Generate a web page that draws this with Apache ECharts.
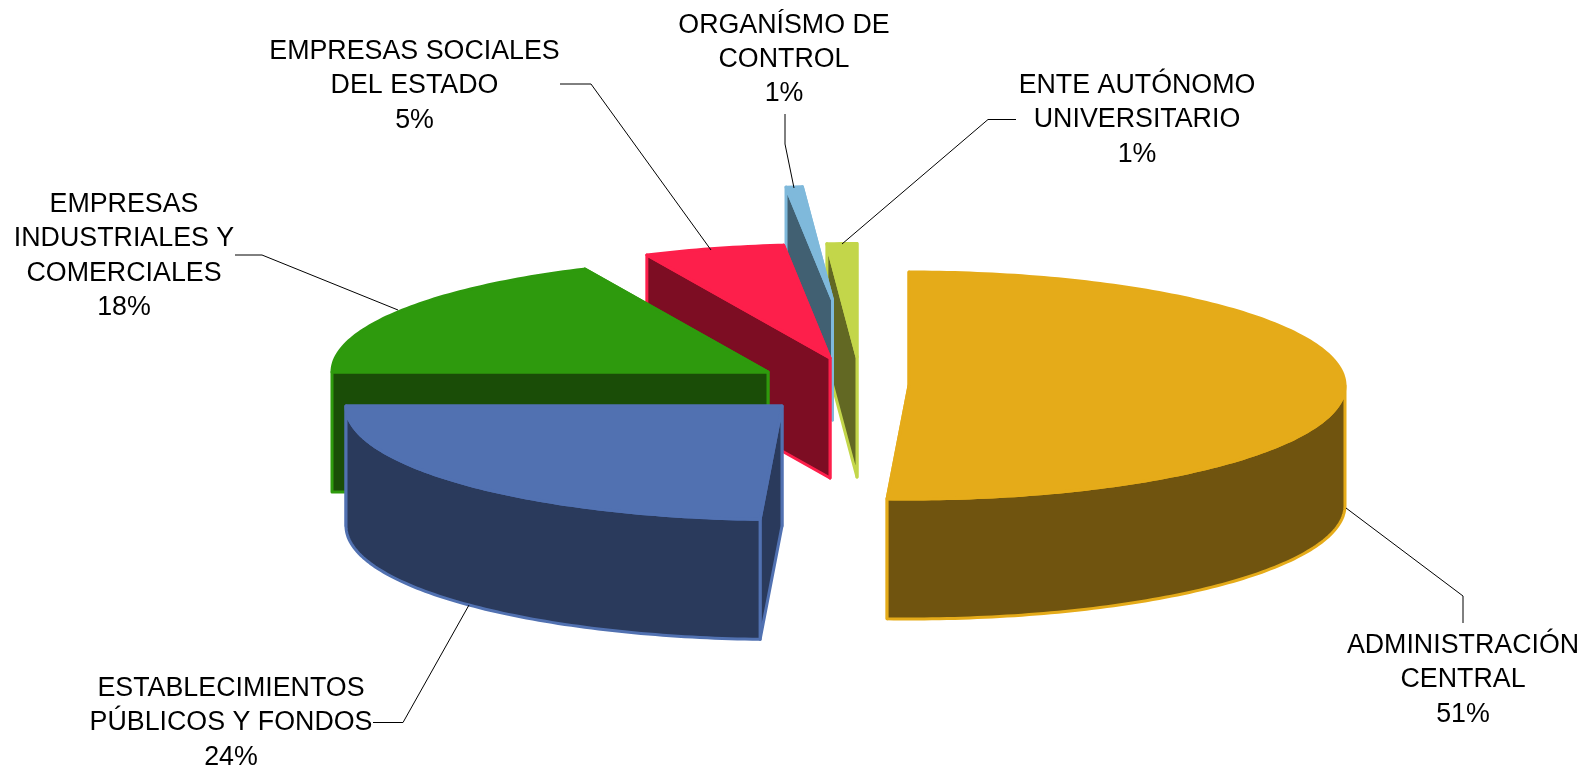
<!DOCTYPE html>
<html>
<head>
<meta charset="utf-8">
<style>
  html, body { margin: 0; padding: 0; background: #fff; }
  #chart { width: 1589px; height: 771px; }
</style>
<script src="https://cdn.jsdelivr.net/npm/echarts@6/dist/echarts.min.js"></script>
</head>
<body>
<div id="chart"></div>
<script>
// datos
const categories = [
  'ADMINISTRACIÓN\nCENTRAL',
  'ESTABLECIMIENTOS\nPÚBLICOS Y FONDOS',
  'EMPRESAS\nINDUSTRIALES Y\nCOMERCIALES',
  'EMPRESAS SOCIALES\nDEL ESTADO',
  'ORGANÍSMO DE\nCONTROL',
  'ENTE AUTÓNOMO\nUNIVERSITARIO'
];
const values = [50.8, 24.2, 18.1, 5.2, 0.6, 1.1];

// colores
const topColors = ['#e5ab19', '#5171b1', '#2e9a0d', '#fd1f4b', '#7fb9db', '#c3d64a'];
const wallColors = ['#70540f', '#2a3a5c', '#1a4d07', '#7d0d23', '#416072', '#626823'];

// geometria de la torta 3D
const rx = 436;
const ry = 113.5;
const depth = 120;
const pieCenter = [830, 385];
const explodeX = [79, -48, -62, 0, 2.5, 27];
const explodeY = [0.5, 21, -13, -27, -85, -28];
// de atras hacia adelante
const drawOrder = [5, 4, 3, 2, 1, 0];

// etiquetas y lineas guia
const labelPos = [[1463, 680], [231, 723], [124, 256], [414.5, 86], [784, 59.5], [1137, 120]];
const leaders = [
  [[1346, 508], [1463, 596], [1463, 623]],
  [[469, 605], [403, 722.5], [373, 722.5]],
  [[398, 310], [262, 255], [235, 255]],
  [[711, 250], [591, 84], [560, 84]],
  [[794, 188], [785, 144], [785, 114]],
  [[842, 244], [988, 119.5], [1016, 119.5]]
];

const total = values.reduce((sum, v) => sum + v, 0);
let acc = 0;
const startAngles = [];
const endAngles = [];
values.forEach(v => {
  startAngles.push(acc / total * 360);
  acc += v;
  endAngles.push(acc / total * 360);
});

function rim(cx, cy, deg) {
  const a = deg * Math.PI / 180;
  return [cx + rx * Math.sin(a), cy - ry * Math.cos(a)];
}

function arc(cx, cy, from, to) {
  const pts = [];
  for (let d = from; d < to; d += 1) pts.push(rim(cx, cy, d));
  pts.push(rim(cx, cy, to));
  return pts;
}

function down(p) {
  return [p[0], p[1] + depth];
}

function face(points, fill, stroke) {
  return {
    type: 'polygon',
    shape: { points: points },
    style: { fill: fill, stroke: stroke, lineWidth: 3, lineJoin: 'round' }
  };
}

function renderSlice(params, api) {
  const i = api.value(0);
  const cx = pieCenter[0] + explodeX[i];
  const cy = pieCenter[1] + explodeY[i];
  const start = startAngles[i];
  const end = endAngles[i];
  const apex = [cx, cy];
  const children = [];
  const radialWall = deg => {
    const p = rim(cx, cy, deg);
    return face([apex, p, down(p), down(apex)], wallColors[i], topColors[i]);
  };
  children.push(radialWall(end));
  children.push(radialWall(start));
  // pared curva, solo la parte de frente
  const from = Math.max(start, 90);
  const to = Math.min(end, 270);
  if (to > from) {
    const upper = arc(cx, cy, from, to);
    const lower = upper.map(down).reverse();
    children.push(face(upper.concat(lower), wallColors[i], topColors[i]));
  }
  children.push(face([apex].concat(arc(cx, cy, start, end)), topColors[i], topColors[i]));
  return { type: 'group', children: children };
}

function renderLabel(params, api) {
  const i = api.value(0);
  return {
    type: 'group',
    children: [
      {
        type: 'polyline',
        shape: { points: leaders[i] },
        style: { fill: null, stroke: '#000', lineWidth: 1 }
      },
      {
        type: 'text',
        x: labelPos[i][0],
        y: labelPos[i][1],
        style: {
          text: categories[i] + '\n' + Math.round(values[i]) + '%',
          fill: '#000',
          font: '26.8px "Liberation Sans", Arial, sans-serif',
          lineHeight: 34.3,
          align: 'center',
          verticalAlign: 'middle'
        }
      }
    ]
  };
}

const myChart = echarts.init(document.getElementById('chart'));
myChart.setOption({
  animation: false,
  backgroundColor: '#fff',
  tooltip: { show: false },
  series: [
    {
      type: 'custom',
      coordinateSystem: 'none',
      renderItem: renderSlice,
      silent: true,
      encode: { value: 0 },
      data: drawOrder.map(i => [i, values[i]])
    },
    {
      type: 'custom',
      coordinateSystem: 'none',
      renderItem: renderLabel,
      silent: true,
      z: 5,
      encode: { value: 0 },
      data: categories.map((name, i) => [i, values[i]])
    }
  ]
});
</script>
</body>
</html>
